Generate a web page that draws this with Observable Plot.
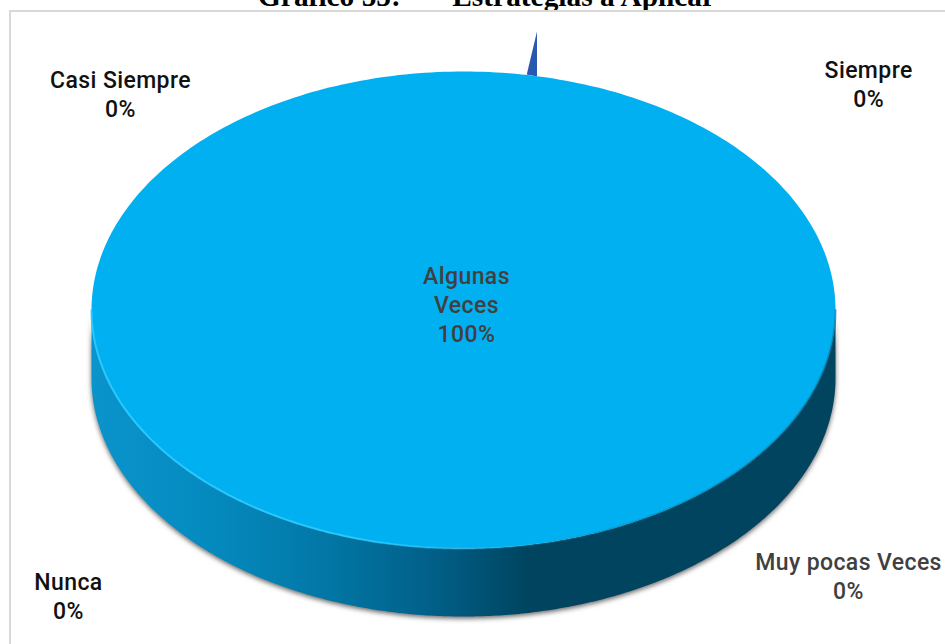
<!DOCTYPE html>
<html lang="es">
<head>
<meta charset="utf-8">
<title>Estrategias a Aplicar</title>
<script src="https://cdn.jsdelivr.net/npm/d3@7"></script>
<script src="https://cdn.jsdelivr.net/npm/@observablehq/plot@0.6"></script>
<style>
  html, body { margin: 0; padding: 0; background: #fff; overflow: hidden; }
  #page { position: relative; width: 945px; height: 644px; overflow: hidden; }
  #heading {
    position: absolute; left: 258px; top: -19px; white-space: pre;
    font: bold 29.4px/30px "Liberation Serif", serif; color: #000;
  }
  #frame {
    position: absolute; left: 9px; top: 10px; right: -4px; bottom: -4px;
    border: 2px solid #d9d9d9; background: #fff;
  }
  #chart { position: absolute; left: 0; top: 0; }
  #chart svg { display: block; background: transparent; }
</style>
</head>
<body>
<div id="page">
  <div id="heading">Gráfico 55:       Estrategias a Aplicar</div>
  <div id="frame"></div>
  <div id="chart"></div>
</div>
<script>
// Survey answers and their share of responses.
const categories = ["Siempre", "Casi Siempre", "Algunas Veces", "Muy pocas Veces", "Nunca"];
const shares = [0, 0, 100, 0, 0];
const sliceColors = ["#2858b0", "#ed7d31", "#00b0f0", "#ffc000", "#5b9bd5"];

// Where each label sits, in pie radii from the centre.
const labelX = [1.089, -0.922, 0.008, 1.035, -1.062];
const labelY = [0.952, 0.908, 0.026, -1.111, -1.196];
const labelColors = ["#111111", "#111111", "#404040", "#404040", "#111111"];

// The thin wedge of the zero-share slice poking out behind the disc.
const wedgeX = [0.1976, 0.170, 0.1976];
const wedgeY = [1.1675, 0.987, 0.979];

const W = 945, H = 644;
const cx = 463, cy = 309.5, rx = 372, ry = 238.5;   // pie centre and radii on the page
const depth = 68 / ry;                               // height of the disc wall

// Shares become arcs around the unit circle; "Siempre" starts at the top.
const total = d3.sum(shares);
let running = 0;
const slices = categories.map((name, i) => {
  const start = running / total * 2 * Math.PI;
  running += shares[i];
  return {name, share: shares[i], start, end: running / total * 2 * Math.PI, color: sliceColors[i]};
});
const arcPoints = (a0, a1, dv = 0) =>
  d3.range(0, 361).map(k => {
    const a = a0 + (a1 - a0) * k / 360;
    return {u: Math.sin(a), v: Math.cos(a) - dv};
  });
const topFaces = slices.filter(s => s.share > 0).flatMap(s =>
  arcPoints(s.start, s.end).map(p => ({...p, name: s.name, color: s.color})));

// Front half of the rim, walked along the top edge and back along the bottom edge.
const frontTop = arcPoints(Math.PI / 2, 3 * Math.PI / 2);
const wall = [...frontTop, ...arcPoints(Math.PI / 2, 3 * Math.PI / 2, depth).reverse()];

const labels = categories.map((name, i) => ({
  x: labelX[i], y: labelY[i], color: labelColors[i],
  text: (name === "Algunas Veces" ? "Algunas\nVeces" : name) + "\n" + shares[i] + "%"
}));

// Horizontal shading of the wall and the bright bevel along the disc edge.
const gradients = () => {
  const ns = "http://www.w3.org/2000/svg";
  const defs = document.createElementNS(ns, "defs");
  const make = (id, stops) => {
    const g = document.createElementNS(ns, "linearGradient");
    g.setAttribute("id", id);
    g.setAttribute("gradientUnits", "userSpaceOnUse");
    g.setAttribute("x1", cx - rx); g.setAttribute("x2", cx + rx);
    g.setAttribute("y1", 0); g.setAttribute("y2", 0);
    for (const [o, c, a] of stops) {
      const s = document.createElementNS(ns, "stop");
      s.setAttribute("offset", o);
      s.setAttribute("stop-color", c);
      if (a !== undefined) s.setAttribute("stop-opacity", a);
      g.appendChild(s);
    }
    defs.appendChild(g);
  };
  make("wallShade", [[0, "#0a94cc"], [0.15, "#058bc0"], [0.3, "#0279a8"], [0.45, "#01618a"], [0.59, "#00445f"], [1, "#00445f"]]);
  make("bevel", [[0, "#2ccbff", 0.9], [0.35, "#2ccbff", 0.9], [0.55, "#2ccbff", 0.25], [0.7, "#0a6f98", 0.35], [1, "#0a6f98", 0.6]]);
  return defs;
};

const chart = Plot.plot({
  width: W, height: H,
  margin: 0,
  style: {background: "transparent", overflow: "visible", letterSpacing: "0.4px"},
  x: {axis: null, domain: [(0 - cx) / rx, (W - cx) / rx], range: [0, W]},
  y: {axis: null, domain: [(cy - H) / ry, cy / ry], range: [H, 0]},
  marks: [
    gradients,
    Plot.line(wedgeX.map((x, i) => ({x, y: wedgeY[i]})), {x: "x", y: "y", fill: sliceColors[0], stroke: "none"}),
    Plot.line(wall, {x: "u", y: "v", fill: "url(#wallShade)", stroke: "none"}),
    Plot.line(topFaces, {x: "u", y: "v", z: "name", fill: "color", stroke: "none"}),
    Plot.line(frontTop, {x: "u", y: "v", stroke: "url(#bevel)", strokeWidth: 2, fill: "none"}),
    Plot.text(labels, {
      x: "x", y: "y", text: "text", fill: "color",
      fontFamily: "Roboto, sans-serif", fontSize: 23, fontWeight: 500, lineHeight: 1.25, textAnchor: "middle"
    })
  ]
});
// Soft shadow under the disc wall.
chart.querySelectorAll('[fill="url(#wallShade)"]').forEach(p => {
  p.style.filter = "drop-shadow(0 2px 2.5px rgba(0,0,0,0.6))";
});
document.getElementById("chart").appendChild(chart);
</script>
</body>
</html>
